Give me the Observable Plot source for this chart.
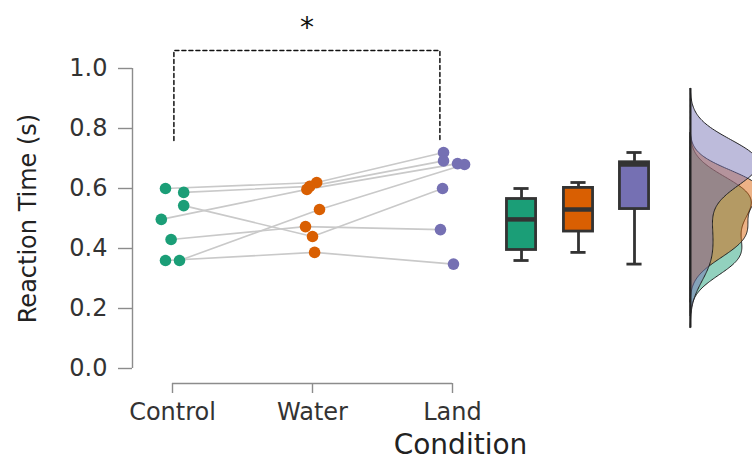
<!DOCTYPE html>
<html>
<head>
<meta charset="utf-8">
<script src="https://cdn.jsdelivr.net/npm/d3@7"></script>
<script src="https://cdn.jsdelivr.net/npm/@observablehq/plot@0.6"></script>
<style>
  body { margin: 0; background: #fff; }
  #chart svg { display: block; }
</style>
</head>
<body>
<div id="chart"></div>
<script>
// ---- data ----
const conditions = ["Control", "Water", "Land"];
const subjects = ["S1", "S2", "S3", "S4", "S5", "S6", "S7"];
const controlRT = [0.600, 0.587, 0.543, 0.497, 0.430, 0.360, 0.360];
const waterRT   = [0.620, 0.607, 0.440, 0.597, 0.473, 0.530, 0.387];
const landRT    = [0.720, 0.692, 0.600, 0.683, 0.463, 0.680, 0.348];
// horizontal jitter of each point (fraction of category spacing)
const controlJitter = [-0.05, 0.08, 0.08, -0.08, -0.01, 0.05, -0.05];
const waterJitter   = [0.03, -0.02, 0.00, -0.04, -0.05, 0.05, 0.015];
const landJitter    = [-0.064, -0.064, -0.071, 0.036, -0.086, 0.086, 0.007];
const yTicks = [0, 0.2, 0.4, 0.6, 0.8, 1.0];
const comparison = { from: "Control", to: "Land", label: "*" };
const palette = ["#1b9e77", "#d95f02", "#7570b3"];

// ---- derived tables ----
const seriesValues = [controlRT, waterRT, landRT];
const seriesJitter = [controlJitter, waterJitter, landJitter];
const rows = [];
conditions.forEach((c, ci) => {
  subjects.forEach((s, si) => {
    rows.push({ subject: s, condition: c, value: seriesValues[ci][si], pos: ci + 1 + seriesJitter[ci][si] });
  });
});

// boxplot stats
const boxCenters = [3.493, 3.9, 4.3];
const boxHalf = 0.104, capHalf = 0.054;
const stats = conditions.map((c, ci) => {
  const v = seriesValues[ci].slice().sort(d3.ascending);
  const q1 = d3.quantile(v, 0.25), q3 = d3.quantile(v, 0.75), iqr = q3 - q1;
  const inside = v.filter(x => x >= q1 - 1.5 * iqr && x <= q3 + 1.5 * iqr);
  return { condition: c, bx: boxCenters[ci], q1, q3, median: d3.quantile(v, 0.5), lo: d3.min(inside), hi: d3.max(inside) };
});

// kernel densities (Gaussian, bw.nrd0, cut = 3)
const densBase = 4.7, densScale = 0.139;
function kde(values) {
  const v = values.slice().sort(d3.ascending);
  const n = v.length;
  const sd = d3.deviation(v);
  const iqr = d3.quantile(v, 0.75) - d3.quantile(v, 0.25);
  const h = 0.9 * Math.min(sd, iqr / 1.34) * Math.pow(n, -0.2);
  const lo = v[0] - 3 * h, hi = v[n - 1] + 3 * h;
  const pts = [];
  const N = 200;
  for (let i = 0; i <= N; i++) {
    const y = lo + (hi - lo) * i / N;
    let s = 0;
    for (const x of v) { const z = (y - x) / h; s += Math.exp(-0.5 * z * z); }
    pts.push({ v: y, d: s / (n * h * Math.sqrt(2 * Math.PI)) });
  }
  return pts;
}
const densities = seriesValues.map(kde);
const densLo = d3.min(densities, p => p[0].v);
const densHi = d3.max(densities, p => p[p.length - 1].v);

// significance bracket
const ia = conditions.indexOf(comparison.from) + 1, ib = conditions.indexOf(comparison.to) + 1;
const xa = ia + 0.01, xb = ib - 0.09;
const yBot = d3.max([...seriesValues[ia - 1], ...seriesValues[ib - 1]]) + 0.04;
const yTop = 1.06;
const bracket = [[xa, yBot], [xa, yTop], [xb, yTop], [xb, yBot]];

const axisGray = "#8c8c8c", textColor = "#333";

const marks = [
  // axes
  Plot.ruleX([1], { y1: 0, y2: 1, dx: -40, stroke: axisGray, strokeWidth: 1.4 }),
  Plot.axisY({ ticks: yTicks, tickFormat: d3.format(".1f"), tickSize: 14, tickPadding: 11, dx: -40,
    fontSize: 24, stroke: axisGray, fill: textColor, label: null, strokeWidth: 1.4 }),
  Plot.ruleY([0], { x1: 1, x2: 3, dy: 15, stroke: axisGray, strokeWidth: 1.4 }),
  Plot.axisX({ ticks: [1, 2, 3], tickFormat: i => conditions[i - 1], tickSize: 10, tickPadding: 9, dy: 15,
    fontSize: 24, stroke: axisGray, fill: textColor, label: null, strokeWidth: 1.4 }),
  Plot.text(["Reaction Time (s)"], { frameAnchor: "left", textAnchor: "middle", dx: -144, rotate: -90, fontSize: 24, fill: "#222" }),
  Plot.text(["Condition"], { frameAnchor: "bottom", dx: 148, dy: 85, fontSize: 28, fill: "#222" }),
  // paired lines and points
  Plot.line(rows, { x: "pos", y: "value", z: "subject", stroke: "#c9c9c9", strokeWidth: 1.6 }),
  Plot.dot(rows, { x: "pos", y: "value", fill: "condition", r: 5.8, stroke: null }),
  // boxplots
  Plot.ruleX(stats, { x: "bx", y1: "q3", y2: "hi", stroke: "#333", strokeWidth: 2.8 }),
  Plot.ruleX(stats, { x: "bx", y1: "lo", y2: "q1", stroke: "#333", strokeWidth: 2.8 }),
  Plot.ruleY(stats, { y: "hi", x1: d => d.bx - capHalf, x2: d => d.bx + capHalf, stroke: "#333", strokeWidth: 2.8 }),
  Plot.ruleY(stats, { y: "lo", x1: d => d.bx - capHalf, x2: d => d.bx + capHalf, stroke: "#333", strokeWidth: 2.8 }),
  Plot.rect(stats, { x1: d => d.bx - boxHalf, x2: d => d.bx + boxHalf, y1: "q1", y2: "q3", fill: "condition", stroke: "#333", strokeWidth: 2.8 }),
  Plot.ruleY(stats, { y: "median", x1: d => d.bx - boxHalf, x2: d => d.bx + boxHalf, stroke: "#333", strokeWidth: 4.5 }),
  // densities
  ...densities.map((pts, ci) => Plot.areaX(pts, { y: "v", x1: () => densBase, x2: p => densBase + p.d * densScale,
    fill: palette[ci], fillOpacity: 0.48, stroke: "#222", strokeWidth: 1 })),
  Plot.ruleX([densBase], { y1: densLo, y2: densHi, stroke: "#222", strokeWidth: 2 }),
  // significance bracket
  Plot.line(bracket, { x: d => d[0], y: d => d[1], stroke: "#111", strokeWidth: 1.5, strokeDasharray: "4,3" }),
  Plot.text([comparison], { x: (xa + xb) / 2, y: 1.135, text: "label", fontSize: 28, fill: "#111" })
];

const chart = Plot.plot({
  width: 752,
  height: 464,
  marginLeft: 172,
  marginRight: 300,
  marginTop: 68,
  marginBottom: 96,
  x: { domain: [1, 3] },
  y: { domain: [0, 1] },
  color: { domain: conditions, range: palette },
  style: { fontFamily: "'DejaVu Sans', sans-serif", background: "#fff", overflow: "visible" },
  marks
});
document.getElementById("chart").appendChild(chart);
</script>
</body>
</html>
